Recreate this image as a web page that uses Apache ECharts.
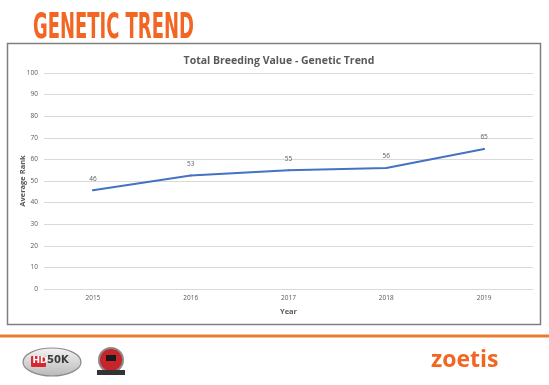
<!DOCTYPE html>
<html>
<head>
<meta charset="utf-8">
<script src="https://cdn.jsdelivr.net/npm/echarts@6/dist/echarts.min.js"></script>
<style>
html,body{margin:0;padding:0;background:#fff;}
#c{width:549px;height:385px;}
</style>
</head>
<body>
<div id="c"></div>
<script>
var years = ['2015', '2016', '2017', '2018', '2019'];
var averageRank = [45.7, 52.5, 55, 56, 64.8];
var yTicks = { min: 0, max: 100, interval: 10 };

var chart = echarts.init(document.getElementById('c'), null, { renderer: 'canvas' });
var grey = '#595959';
var orange = '#F26522';
chart.setOption({
  animation: false,
  backgroundColor: '#ffffff',
  title: {
    text: 'Total Breeding Value - Genetic Trend',
    left: 274, top: 51, textAlign: 'center',
    textStyle: { fontFamily: 'Open Sans', fontSize: 10.5, fontWeight: 'bold', color: grey }
  },
  grid: { left: 44, right: 16, top: 73, bottom: 96, containLabel: false },
  xAxis: {
    type: 'category', data: years, boundaryGap: true,
    name: 'Year', nameLocation: 'middle', nameGap: 19, nameMoveOverlap: false,
    nameTextStyle: { fontFamily: 'Open Sans', fontSize: 7.5, fontWeight: 'bold', color: grey },
    axisLine: { lineStyle: { color: '#d9d9d9', width: 1 } },
    axisTick: { show: false },
    axisLabel: { fontFamily: 'Open Sans', fontSize: 6.5, color: grey, margin: 6 }
  },
  yAxis: {
    type: 'value', min: yTicks.min, max: yTicks.max, interval: yTicks.interval,
    name: 'Average Rank', nameLocation: 'middle', nameGap: 17, nameRotate: 90, nameMoveOverlap: false,
    nameTextStyle: { fontFamily: 'Open Sans', fontSize: 7.5, fontWeight: 'bold', color: grey },
    axisLine: { show: false }, axisTick: { show: false },
    axisLabel: { fontFamily: 'Open Sans', fontSize: 6.5, color: grey, margin: 6 },
    splitLine: { lineStyle: { color: '#d9d9d9', width: 1 } }
  },
  series: [{
    type: 'line', data: averageRank, symbol: 'circle', symbolSize: 2, showSymbol: true, smooth: false,
    lineStyle: { color: '#4472C4', width: 2 },
    itemStyle: { color: '#4472C4' },
    label: {
      show: true, position: 'top', distance: 7,
      fontFamily: 'Open Sans', fontSize: 6.5, color: grey,
      formatter: function (p) { return String(Math.round(p.value)); }
    }
  }],
  graphic: [
    { type: 'rect', shape: { x: 7.5, y: 43.5, width: 533, height: 281 },
      style: { fill: 'none', stroke: '#7f7f7f', lineWidth: 1.5 }, z: 10 },
    { type: 'text', x: 33, y: 11, scaleX: 0.57,
      style: { text: 'GENETIC TREND', fill: orange, font: 'bold 35px "DejaVu Sans Condensed", "DejaVu Sans"' } },
    { type: 'rect', shape: { x: 0, y: 334.5, width: 549, height: 3 }, style: { fill: '#EF7B2E' } },
    { type: 'ellipse', shape: { cx: 52, cy: 362, rx: 29, ry: 14 },
      style: { fill: new echarts.graphic.LinearGradient(0, 0, 0, 1, [{ offset: 0, color: '#f4f4f4' }, { offset: 1, color: '#b8b8b8' }]), stroke: '#8a8a8a', lineWidth: 1.2 } },
    { type: 'rect', shape: { x: 31, y: 356, width: 15, height: 11, r: 1 }, style: { fill: '#d8262e' } },
    { type: 'text', x: 32.5, y: 356.5, style: { text: 'HD', fill: '#ffffff', font: 'bold 9px "DejaVu Sans"' } },
    { type: 'text', x: 47, y: 355.5, style: { text: '50K', fill: '#3a3a3a', font: 'bold 10px "DejaVu Sans"' } },
    { type: 'circle', shape: { cx: 111, cy: 360, r: 13 }, style: { fill: '#8a8a8a' } },
    { type: 'circle', shape: { cx: 111, cy: 360, r: 11 }, style: { fill: '#c8242b' } },
    { type: 'rect', shape: { x: 106, y: 355, width: 10, height: 6 }, style: { fill: '#1a1a1a' } },
    { type: 'rect', shape: { x: 97, y: 370, width: 28, height: 5 }, style: { fill: '#333333' } },
    { type: 'text', x: 431, y: 349, style: { text: 'zoetis', fill: orange, font: 'bold 23px "Open Sans"' } }
  ]
});
</script>
</body>
</html>
